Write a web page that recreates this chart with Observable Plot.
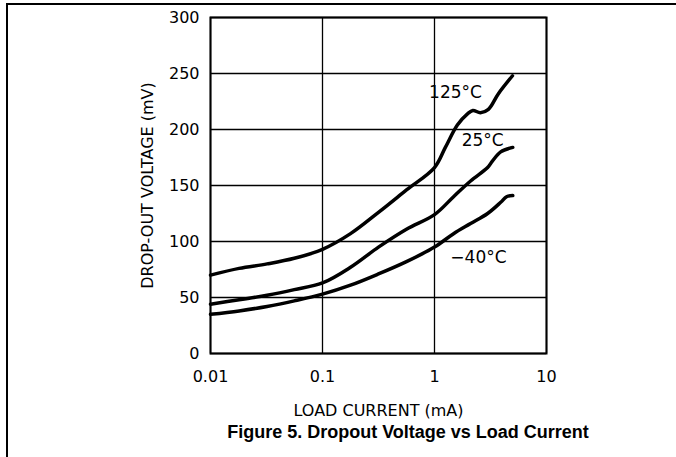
<!DOCTYPE html>
<html>
<head>
<meta charset="utf-8">
<script src="https://cdn.jsdelivr.net/npm/d3@7"></script>
<script src="https://cdn.jsdelivr.net/npm/@observablehq/plot@0.6"></script>
<style>
  html, body { margin: 0; padding: 0; background: #fff; }
  body { width: 676px; height: 457px; position: relative; overflow: hidden; }
  #frame { position: absolute; left: 6px; top: 3px; right: -2px; bottom: -2px; border-top: 2px solid #000; border-left: 2px solid #000; }
  #chart { position: absolute; left: 0; top: 0; }
  #caption { position: absolute; left: 0; width: 816px; top: 421px; text-align: center;
    font-family: "Liberation Sans", Arial, sans-serif; font-weight: bold; font-size: 18px; line-height: 22px; color: #000; }
</style>
</head>
<body>
<div id="frame"></div>
<div id="chart"></div>
<div id="caption">Figure 5. Dropout Voltage vs Load Current</div>
<script>
// Tick values and labels
const xTicks = [0.01, 0.1, 1, 10];
const xTickLabels = ["0.01", "0.1", "1", "10"];
const yTicks = [0, 50, 100, 150, 200, 250, 300];

// 125°C
const current125 = [0.01, 0.018, 0.032, 0.056, 0.1, 0.178, 0.316, 0.562, 1.0, 1.25, 1.6, 1.97, 2.2, 2.57, 3.03, 3.72, 4.97];
const voltage125 = [70, 76, 80, 85, 93, 107, 126, 146, 166, 184, 204, 214, 217, 215, 218, 232, 248];
// 25°C
const current25 = [0.01, 0.018, 0.032, 0.056, 0.1, 0.178, 0.316, 0.562, 1.0, 1.48, 2.1, 2.98, 3.3, 3.9, 5.0];
const voltage25 = [44, 48, 52, 57, 63, 77, 95, 111, 124, 140, 154, 166, 172, 180, 184];
// -40°C
const currentM40 = [0.01, 0.018, 0.032, 0.056, 0.1, 0.178, 0.316, 0.562, 1.0, 1.48, 2.1, 2.98, 3.9, 4.4, 5.0];
const voltageM40 = [35, 38, 42, 47, 53, 61, 71, 82, 95, 107, 116, 125, 135, 140, 141];

// Curve labels
const labelText = ["125°C", "25°C", "\u221240°C"];
const labelX = [1.54, 2.69, 2.47];
const labelY = [233, 190, 86];

const toRows = (xs, ys) => xs.map((x, i) => ({x, y: ys[i]}));
const series = [toRows(current125, voltage125), toRows(current25, voltage25), toRows(currentM40, voltageM40)];
const labels = labelText.map((t, i) => ({t, x: labelX[i], y: labelY[i]}));
const fmtX = d => {
  let best = 0;
  xTicks.forEach((t, i) => { if (Math.abs(Math.log10(t) - Math.log10(d)) < Math.abs(Math.log10(xTicks[best]) - Math.log10(d))) best = i; });
  return xTickLabels[best];
};

const chart = Plot.plot({
  width: 676,
  height: 420,
  marginTop: 17,
  marginBottom: 67,
  marginLeft: 210,
  marginRight: 130,
  style: {fontFamily: "DejaVu Sans", fontSize: "16px", color: "#000", background: "transparent", overflow: "visible"},
  x: {type: "log", domain: [0.01, 10]},
  y: {domain: [0, 300]},
  marks: [
    Plot.gridX(xTicks, {stroke: "#000", strokeOpacity: 1, strokeWidth: 1.3}),
    Plot.gridY(yTicks, {stroke: "#000", strokeOpacity: 1, strokeWidth: 1.3}),
    Plot.frame({stroke: "#000", strokeWidth: 2}),
    Plot.axisX(xTicks, {tickSize: 0, tickPadding: 17, tickFormat: fmtX,
      label: "LOAD CURRENT (mA)", labelAnchor: "center", labelArrow: "none", labelOffset: 62, fontSize: 16}),
    Plot.axisY(yTicks, {tickSize: 0, tickPadding: 11,
      label: "DROP-OUT VOLTAGE (mV)", labelAnchor: "center", labelArrow: "none", labelOffset: 69, fontSize: 16}),
    ...series.map(s => Plot.line(s, {x: "x", y: "y", curve: "catmull-rom", stroke: "#000", strokeWidth: 3.5})),
    Plot.text(labels, {x: "x", y: "y", text: "t", fontSize: 17, fill: "#000"})
  ]
});
document.getElementById("chart").appendChild(chart);
</script>
</body>
</html>
